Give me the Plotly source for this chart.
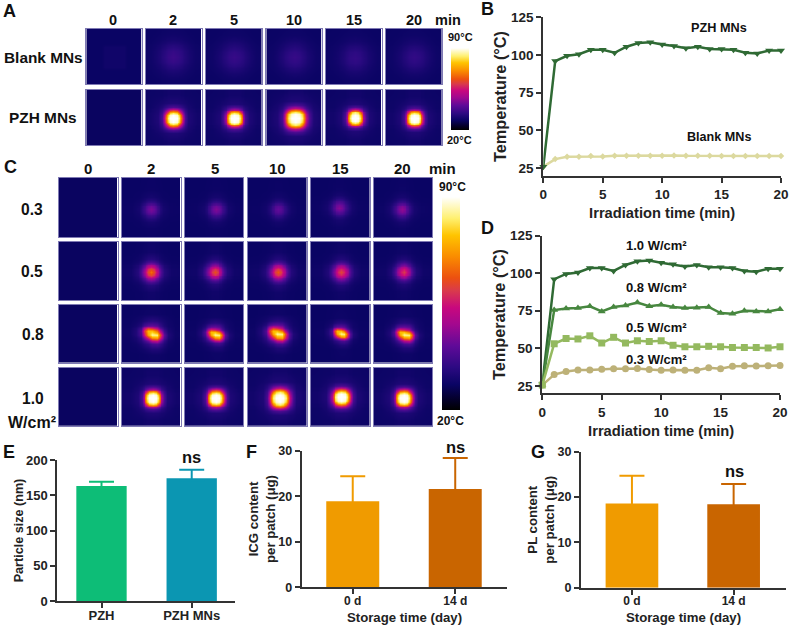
import plotly.graph_objects as go

W, H = 789, 625

# ---------- line chart data ----------
TIME = list(range(21))
PZH_MNS = [26, 96, 99.5, 100.5, 103.5, 103.5, 101.5, 105.5, 108, 108.5, 107, 106, 104.5, 105.5, 104, 104, 103.5, 101.5, 101, 103, 103]
BLANK_MNS = [26, 31, 32.5, 32.5, 33, 32.8, 33.2, 33.3, 33.2, 33.2, 33.3, 33.4, 33.2, 33.2, 33.2, 33.1, 33.1, 33.1, 33.1, 33.1, 33.1]
P10 = [26, 96, 99.5, 100.5, 103.5, 103.5, 101.5, 105.5, 108, 108.5, 107, 106, 104.5, 105.5, 104, 104, 103.5, 101.5, 101, 103, 103]
P08 = [25.5, 75.5, 76.5, 76.8, 78, 74.5, 77.5, 78.5, 80.5, 78, 79, 77.5, 76.8, 77, 77.5, 73.5, 73, 75, 74.5, 74.5, 76]
P05 = [25.5, 53, 56.5, 56.2, 58.3, 53.5, 57.3, 53.5, 55, 54.5, 55, 52, 51, 51, 51.3, 51, 50.5, 50.5, 50.5, 50.2, 51]
P03 = [25.5, 32.5, 34.5, 35.5, 35.5, 36, 36.3, 36.3, 36.5, 35.8, 35.3, 35.5, 35.3, 35.3, 37, 36.3, 38, 38.3, 38.2, 38.3, 38.5]

# ---------- bar chart data ----------
E_CATS = ["PZH", "PZH MNs"]
E_MEAN = [163, 174]
E_ERR = [6, 12]
F_CATS = ["0 d", "14 d"]
F_MEAN = [18.9, 21.6]
F_ERR = [5.5, 6.8]
G_CATS = ["0 d", "14 d"]
G_MEAN = [18.6, 18.4]
G_ERR = [6.1, 4.5]

# ---------- thermal image data (amplitude templates) ----------
THERMAL = [[0, "#000000"], [.05, "#04002a"], [.12, "#0a0464"], [.2, "#2c0a82"], [.3, "#5f0a98"],
           [.4, "#a2088f"], [.48, "#c8087e"], [.56, "#d93a4c"], [.62, "#ec5010"], [.72, "#fa8c00"],
           [.82, "#ffc400"], [.9, "#fff070"], [1, "#ffffff"]]
BG = 0.12
OFFS = [0, 3, 5, 6.5, 8, 10, 13, 20, 48]
SPOT_Q = [
    [1, 1, .886, .636, .375, .17, .057, .023, .005],
    [1, .96, .82, .58, .33, .155, .055, .023, .005],
    [.886, .82, .62, .44, .27, .135, .05, .023, .005],
    [.636, .58, .44, .32, .2, .11, .045, .017, .005],
    [.375, .33, .27, .2, .14, .085, .04, .017, .005],
    [.17, .155, .135, .11, .085, .06, .034, .011, .005],
    [.057, .055, .05, .045, .04, .034, .023, .011, .005],
    [.023, .023, .023, .017, .017, .011, .011, .008, .004],
    [.005, .005, .005, .005, .005, .005, .005, .004, 0],
]
SOFT_Q = [
    [1, .88, .7, .56, .42, .27, .12, .03, 0],
    [.88, .78, .63, .5, .38, .24, .11, .03, 0],
    [.7, .63, .5, .4, .3, .2, .09, .02, 0],
    [.56, .5, .4, .32, .25, .16, .08, .02, 0],
    [.42, .38, .3, .25, .19, .12, .06, .015, 0],
    [.27, .24, .2, .16, .12, .08, .04, .01, 0],
    [.12, .11, .09, .08, .06, .04, .02, .005, 0],
    [.03, .03, .02, .02, .015, .01, .005, 0, 0],
    [0, 0, 0, 0, 0, 0, 0, 0, 0],
]
PLATE_Q = [
    [1, 1, 1, 1, 1, 1, .1, 0, 0],
    [1, 1, 1, 1, 1, 1, .1, 0, 0],
    [1, 1, 1, 1, 1, 1, .1, 0, 0],
    [1, 1, 1, 1, 1, 1, .1, 0, 0],
    [1, 1, 1, 1, 1, 1, .1, 0, 0],
    [1, 1, 1, 1, 1, 1, .1, 0, 0],
    [.1, .1, .1, .1, .1, .1, .05, 0, 0],
    [0, 0, 0, 0, 0, 0, 0, 0, 0],
    [0, 0, 0, 0, 0, 0, 0, 0, 0],
]
BAR_X = [-48, -20, -14, -10, -7, -4, 0, 4, 7, 10, 14, 20, 48]
BAR_Y = [-48, -18, -12, -8, -5.5, -3, 0, 3, 5.5, 8, 12, 18, 48]
BAR_T = [
    [0, 0, 0, 0, 0, 0, 0, 0, 0, 0, 0, 0, 0],
    [0, 0, .003, .005, .008, .01, .012, .01, .008, .005, .003, 0, 0],
    [0, .003, .015, .03, .05, .07, .08, .07, .05, .03, .015, .003, 0],
    [0, .005, .03, .07, .15, .2, .21, .18, .11, .05, .02, .005, 0],
    [0, .008, .05, .13, .36, .5, .45, .34, .18, .08, .03, .006, 0],
    [0, .01, .06, .18, .5, .78, .78, .62, .36, .13, .04, .008, 0],
    [0, .01, .06, .16, .42, .74, .92, .9, .58, .2, .06, .01, 0],
    [0, .008, .04, .1, .25, .46, .7, .74, .48, .17, .05, .008, 0],
    [0, .006, .03, .07, .13, .22, .36, .4, .26, .1, .03, .006, 0],
    [0, .004, .015, .04, .07, .1, .15, .16, .12, .06, .02, .004, 0],
    [0, .002, .006, .015, .025, .04, .06, .06, .05, .025, .008, .002, 0],
    [0, 0, 0, .003, .005, .008, .01, .01, .008, .005, 0, 0, 0],
    [0, 0, 0, 0, 0, 0, 0, 0, 0, 0, 0, 0, 0],
]


def mirror(q):
    half = [list(reversed(r[1:])) + r for r in q]
    return list(reversed(half[1:])) + half


MIRROR_OFFS = [-v for v in reversed(OFFS[1:])] + OFFS
TEMPLATES = {
    "spot": (MIRROR_OFFS, MIRROR_OFFS, mirror(SPOT_Q)),
    "soft": (MIRROR_OFFS, MIRROR_OFFS, mirror(SOFT_Q)),
    "plate": (MIRROR_OFFS, MIRROR_OFFS, mirror(PLATE_Q)),
    "bar": (BAR_X, BAR_Y, BAR_T),
}

# per panel: template, gain, scale, dx, dy
A_BLANK = [("plate", .015, 1, 0, 0), ("soft", .125, 1.7, -.4, 0), ("soft", .115, 1.7, .5, .5),
           ("soft", .115, 1.7, 0, .5), ("soft", .105, 1.7, .8, 1), ("soft", .105, 1.7, .4, .8)]
A_PZH = [("soft", 0, 1, 0, 0), ("spot", 1, 1.15, -.4, .8), ("spot", 1, 1.1, .6, .8),
         ("spot", 1, 1.35, 1.4, .8), ("spot", 1, 1.05, 1.3, .2), ("spot", 1, 1.08, .6, .8)]
C_03 = [("soft", 0, 1, 0, 0), ("soft", .25, .95, -.3, 1.8), ("soft", .26, .95, 2, 1.8),
        ("soft", .21, .95, 1, 1.8), ("soft", .27, .95, -1, 0), ("soft", .29, .95, -1.3, 1.8)]
C_05 = [("soft", 0, 1, 0, 0), ("soft", .62, 1, 0, .7), ("soft", .56, .95, .7, .7),
        ("soft", .58, 1, 1, .7), ("soft", .53, 1, 1, .7), ("soft", .5, .95, .5, .7)]
C_08 = [("soft", 0, 1, 0, 0), ("bar", 1, 1.15, 1, .7), ("bar", 1, 1, 1, 1),
        ("bar", 1, 1.15, 0, .3), ("bar", 1, .9, .5, 0), ("bar", 1, 1.05, 1.3, 1.3)]
C_10 = [("soft", 0, 1, 0, 0), ("spot", 1, 1.1, 1.3, 1.3), ("spot", 1, 1.12, 1.7, 1.3),
        ("spot", 1, 1.3, 2.3, 1.3), ("spot", 1, 1.18, 1, .3), ("spot", 1, 1.12, .7, 1.3)]

COL_A = [(86.3, 141.5), (146, 201.5), (206, 261.5), (266.3, 321.5), (326, 381.5), (386, 441.5)]
ROW_A = [(29, 84), (90, 145)]
COL_C = [(59, 117.5), (122, 180.5), (185, 243), (248, 306.5), (311, 369.5), (374, 432)]
ROW_C = [(178, 237), (242, 300), (304.7, 362.7), (367.7, 426)]

fig = go.Figure()
layout = {}
axis_n = [0]


def fx(x):
    return x / W


def fy(y):
    return 1 - y / H


def new_axes(x0, x1, y0, y1, xa, ya):
    axis_n[0] += 1
    n = axis_n[0]
    sfx = "" if n == 1 else str(n)
    xa = dict(xa, domain=[fx(x0), fx(x1)], anchor="y" + sfx)
    ya = dict(ya, domain=[fy(y1), fy(y0)], anchor="x" + sfx)
    layout["xaxis" + sfx] = xa
    layout["yaxis" + sfx] = ya
    return "x" + sfx, "y" + sfx


FRAME = dict(showgrid=False, zeroline=False, ticks="", showticklabels=False, showline=True,
             mirror=True, linecolor="#7f7ab4", linewidth=1)


def thermal_panel(box_x, box_y, spec, colorbar=None):
    name, gain, scale, dx, dy = spec
    tx, ty, tz = TEMPLATES[name]
    half_x = (box_x[1] - box_x[0]) / 2
    half_y = (box_y[1] - box_y[0]) / 2
    xa, ya = new_axes(box_x[0], box_x[1], box_y[0], box_y[1],
                      dict(FRAME, range=[-half_x, half_x]), dict(FRAME, range=[half_y, -half_y]))
    base = BG if gain > 0 else BG - .005
    tr = go.Heatmap(x=[dx + scale * v for v in tx], y=[dy + scale * v for v in ty],
                    z=[[base + gain * v * (1 - base) for v in row] for row in tz],
                    zmin=0, zmax=1, colorscale=THERMAL, zsmooth="best", showscale=colorbar is not None,
                    xaxis=xa, yaxis=ya, hoverinfo="skip")
    if colorbar:
        tr.colorbar = colorbar
    fig.add_trace(tr)


def cbar(x, y0, y1, th):
    return dict(x=fx(x), xanchor="left", y=fy(y0), yanchor="top", lenmode="pixels", len=y1 - y0,
                thicknessmode="pixels", thickness=th, outlinewidth=0, borderwidth=0, xpad=0, ypad=0,
                ticks="", showticklabels=False)


for i, s in enumerate(A_BLANK):
    thermal_panel(COL_A[i], ROW_A[0], s, cbar(451, 48, 130, 18) if i == 0 else None)
for i, s in enumerate(A_PZH):
    thermal_panel(COL_A[i], ROW_A[1], s)
for r, row in enumerate([C_03, C_05, C_08, C_10]):
    for i, s in enumerate(row):
        thermal_panel(COL_C[i], ROW_C[r], s, cbar(441.7, 196.7, 410, 18.3) if (r == 0 and i == 0) else None)

INK = "#333333"
FONT = "Liberation Sans"


def chart_axis(size, **kw):
    return dict(showgrid=False, zeroline=False, showline=True, linecolor=INK, linewidth=2, ticks="outside",
                ticklen=5, tickwidth=2, tickcolor=INK,
                tickfont=dict(family=FONT, size=size, color="#222222", weight=700), **kw)


def atitle(text, size, standoff):
    return dict(text=text, font=dict(family=FONT, size=size, color="#222222", weight=700), standoff=standoff)


def line_chart(x0, x1, y0, y1, series):
    xa, ya = new_axes(x0, x1, y0, y1,
                      chart_axis(13.5, range=[0, 20], tickvals=[0, 5, 10, 15, 20],
                                 title=atitle("Irradiation time (min)", 14.7, 7)),
                      chart_axis(13.5, range=[20, 125], tickvals=[25, 50, 75, 100, 125],
                                 title=atitle("Temperature (°C)", 16.3, 0)))
    for name, vals, col, sym, ms in series:
        fig.add_trace(go.Scatter(x=TIME, y=vals, name=name, mode="lines+markers", cliponaxis=False,
                                 line=dict(color=col, width=2.5), marker=dict(symbol=sym, size=ms, color=col),
                                 xaxis=xa, yaxis=ya, showlegend=False))


line_chart(543.3, 781, 17.3, 175.7, [
    ("Blank MNs", BLANK_MNS, "#dcd99f", "diamond", 5),
    ("PZH MNs", PZH_MNS, "#2f6a34", "triangle-down", 7),
])
line_chart(542.3, 780, 235.7, 393.3, [
    ("1.0 W/cm2", P10, "#2f6a34", "triangle-down", 7),
    ("0.8 W/cm2", P08, "#47873f", "triangle-up", 7),
    ("0.3 W/cm2", P03, "#bdb178", "circle", 7),
    ("0.5 W/cm2", P05, "#94b95f", "square", 7),
])


def bar_chart(x0, x1, y0, y1, xr, yr, yticks, cats, mean, err, colors, bw, xfont, yfont, xtitle, ytitle):
    xa, ya = new_axes(x0, x1, y0, y1,
                      chart_axis(xfont, range=xr, type="category", categoryorder="array", categoryarray=cats,
                                 ticklabelstandoff=-4,
                                 **({"title": atitle(xtitle, 13.2, 9)} if xtitle else {})),
                      chart_axis(yfont, range=yr, tickvals=yticks, title=atitle(ytitle[0], ytitle[1], ytitle[2])))
    # the lower whisker stays inside the bar so that only the upper cap shows
    inside = yr[1] * .015
    for i in range(2):
        fig.add_trace(go.Bar(x=[cats[i]], y=[mean[i]], width=bw, marker=dict(color=colors[i], line_width=0),
                             error_y=dict(type="data", symmetric=False, array=[err[i]], arrayminus=[inside],
                                          color=colors[i], thickness=2, width=12.5),
                             xaxis=xa, yaxis=ya, showlegend=False, cliponaxis=False))


ORANGES = ["#f09b00", "#c96500"]
bar_chart(57.3, 235, 460, 601, [-.49, 1.48], [0, 200], [0, 50, 100, 150, 200], E_CATS, E_MEAN, E_ERR,
          ["#0dbd77", "#0b96b2"], .558, 13, 13, None, ("Particle size (nm)", 12.6, 0))
bar_chart(301.7, 507.3, 450.7, 587.3, [-.498, 1.508], [0, 30], [0, 10, 20, 30], F_CATS, F_MEAN, F_ERR,
          ORANGES, .517, 12, 12.5, "Storage time (day)", ("ICG content<br>per patch (μg)", 13.2, 0))
bar_chart(581, 786, 451.7, 587.7, [-.501, 1.515], [0, 30], [0, 10, 20, 30], G_CATS, G_MEAN, G_ERR,
          ORANGES, .518, 12, 12.5, "Storage time (day)", ("PL content<br>per patch (μg)", 13.2, 0))

# ---------- texts ----------
annots = []


def label(x, y, text, size, color="#111111"):
    annots.append(dict(x=fx(x), y=fy(y), xref="paper", yref="paper", text=text, showarrow=False,
                       xanchor="center", yanchor="middle", borderpad=0,
                       font=dict(family=FONT, size=size, color=color, weight=700)))


for t, x, y in [("A", 9, 11), ("B", 487, 9), ("C", 10, 167), ("D", 487, 228), ("E", 9, 452), ("F", 251, 452), ("G", 538, 452)]:
    label(x, y, t, 18)
for t, x in zip(["0", "2", "5", "10", "15", "20", "min"], [113.3, 173.3, 234, 294, 354, 414, 448.3]):
    label(x, 20, t, 14.5)
label(43.3, 58, "Blank MNs", 15.4)
label(43, 118, "PZH MNs", 15.4)
label(461, 37.3, "90°C", 11)
label(459.3, 140, "20°C", 11)
for t, x in zip(["0", "2", "5", "10", "15", "20", "min"], [87.7, 151, 214.7, 277.3, 340.3, 403, 442]):
    label(x, 168.3, t, 15)
for t, x, y in [("0.3", 32, 209.3), ("0.5", 32, 271.7), ("0.8", 32.7, 334.3), ("1.0", 33, 398.3)]:
    label(x, y, t, 15.6)
label(32, 422.3, "W/cm²", 16)
label(452.7, 187.3, "90°C", 12)
label(450.7, 421.3, "20°C", 12)
label(719.3, 28, "PZH MNs", 12.7)
label(719.3, 136.7, "Blank MNs", 12.6)
for t, y in [("1.0", 245.7), ("0.8", 287.3), ("0.5", 327.3), ("0.3", 359.3)]:
    label(656.7, y, t + " W/cm²", 13)
label(191.7, 456.7, "ns", 16.5)
label(455.7, 446.7, "ns", 16.5)
label(734, 471, "ns", 16.5)

fig.update_layout(width=W, height=H, margin=dict(l=0, r=0, t=0, b=0, pad=0, autoexpand=False),
                  paper_bgcolor="white", plot_bgcolor="white", showlegend=False, annotations=annots,
                  font=dict(family=FONT), **layout)
fig.write_html("out.html", config={"displayModeBar": False},
               post_script="document.body.style.margin='0';document.documentElement.style.overflow='hidden';")
